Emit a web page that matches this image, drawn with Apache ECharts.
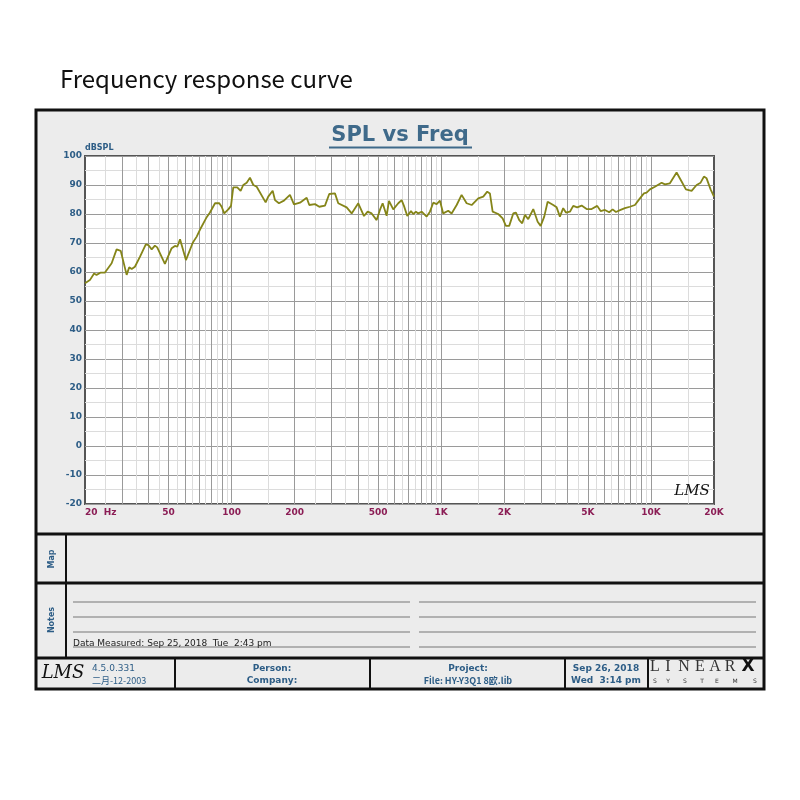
<!DOCTYPE html>
<html>
<head>
<meta charset="utf-8">
<script src="https://cdn.jsdelivr.net/npm/echarts@6/dist/echarts.min.js"></script>
<style>html,body{margin:0;padding:0;background:#fff;}#c{width:800px;height:800px;}</style>
</head>
<body>
<div id="c"></div>
<script>
// ---- data ----
const freqs = [20.0,21.1,22.1,22.7,23.8,24.9,26.8,28.3,29.6,31.6,32.5,33.4,34.6,36.6,39.0,40.1,41.6,43.1,44.2,48.1,
  51.8,53.7,55.1,56.8,60.6,65.3,68.2,71.3,76.1,78.9,83.4,87.4,89.7,92.3,96.5,99.4,101.9,106.5,110.5,113.7,
  118.1,122.4,127.0,131.8,145.4,149.6,157.1,161.1,168.3,177.8,189.9,198.5,212.0,228.2,234.8,250.0,262.1,279.0,292.4,311.3,
  322.8,354.0,374.0,402.2,428.2,445.8,465.8,492.0,510.2,525.6,549.2,563.4,590.6,624.0,647.6,664.2,688.8,717.4,735.8,757.6,
  777.0,806.6,852.2,883.6,916.2,951.0,986.2,1022,1080,1121,1185,1251,1322,1397,1502,1587,1658,1707,1759,1870,
  1963,2035,2110,2206,2272,2356,2434,2508,2600,2748,2800,2884,2980,3100,3218,3422,3552,3682,3818,3934,
  4110,4262,4452,4674,4938,5216,5546,5758,6036,6328,6570,6812,7172,7518,7944,8392,8866,9264,9542,9894,
  10452,11250,11666,12324,13262,14012,14690,15640,16522,17264,17900,18438,19266,20000];
const spl = [56.1,57.2,59.5,59.0,59.8,59.8,63.0,67.8,67.3,59.0,61.6,61.0,61.8,65.3,69.5,69.3,67.8,69.1,68.5,62.8,
  68.2,69.0,68.7,71.3,64.1,70.1,72.2,75.1,78.9,80.5,83.7,83.7,82.5,80.2,81.6,82.8,89.2,89.2,88.0,90.0,
  90.8,92.5,90.0,89.4,84.0,86.0,88.0,84.8,83.7,84.6,86.6,83.3,83.9,85.6,83.1,83.4,82.5,82.9,86.9,87.1,
  83.7,82.3,80.2,83.7,79.3,80.8,80.2,77.9,81.4,83.7,79.4,84.5,81.6,83.7,84.8,82.8,79.3,81.0,80.0,80.8,
  80.2,80.8,79.1,80.8,83.9,83.4,84.6,80.2,81.1,80.2,83.1,86.6,83.7,83.1,85.4,86.0,87.7,87.1,80.8,80.0,
  78.5,75.9,75.9,80.2,80.5,77.9,76.8,79.7,78.2,81.7,81.6,77.3,75.9,79.1,84.2,83.1,82.3,79.1,82.0,80.5,
  80.8,82.8,82.3,82.9,81.7,81.7,82.8,81.0,81.4,80.6,81.6,80.7,81.4,82.0,82.5,83.1,85.4,87.1,87.4,88.5,
  89.4,90.8,90.2,90.6,94.3,91.2,88.5,88.0,90.0,90.8,92.9,92.3,88.5,86.0];
const xTickValues = [20,50,100,200,500,1000,2000,5000,10000,20000];
const xTickLabels = ['20  Hz','50','100','200','500','1K','2K','5K','10K','20K'];
const xMajorGrid = [30,40,50,60,70,80,90,100,200,300,400,500,600,700,800,900,1000,2000,3000,4000,5000,6000,7000,8000,9000,10000];
const xMinorGrid = [25,35,45,55,65,75,85,95,150,250,350,450,550,650,750,850,950,1500,2500,3500,4500,5500,6500,7500,8500,9500,15000];

const blue = '#2d5d86';
const font = '"DejaVu Sans", Verdana, sans-serif';

const chart = echarts.init(document.getElementById('c'), null, {renderer: 'canvas'});

function gridLines(vals, color) {
  return {
    type: 'line', data: [], silent: true,
    markLine: {
      silent: true, z: 1, animation: false, symbol: ['none', 'none'],
      label: {show: false},
      lineStyle: {color: color, width: 1, type: 'solid'},
      data: vals.map(v => ({xAxis: v}))
    }
  };
}

const frameEls = [];
frameEls.push({type: 'rect', z: -10, shape: {x: 36, y: 110, width: 728, height: 579}, style: {fill: '#ececec', stroke: null}});
frameEls.push({type: 'rect', z: 20, shape: {x: 36, y: 110, width: 728, height: 579}, style: {fill: null, stroke: '#111', lineWidth: 3}});
[534, 583, 658].forEach(y => frameEls.push({type: 'line', z: 20, shape: {x1: 36, y1: y, x2: 764, y2: y}, style: {stroke: '#111', lineWidth: 3}}));
frameEls.push({type: 'line', z: 20, shape: {x1: 66, y1: 534, x2: 66, y2: 658}, style: {stroke: '#111', lineWidth: 2}});
[175, 370, 565, 648].forEach(x => frameEls.push({type: 'line', z: 20, shape: {x1: x, y1: 658, x2: x, y2: 689}, style: {stroke: '#111', lineWidth: 2}}));
[602, 617, 632, 647].forEach(y => {
  frameEls.push({type: 'line', z: 20, shape: {x1: 73, y1: y, x2: 410, y2: y}, style: {stroke: '#777', lineWidth: 1}});
  frameEls.push({type: 'line', z: 20, shape: {x1: 419, y1: y, x2: 756, y2: y}, style: {stroke: '#777', lineWidth: 1}});
});
function txt(x, y, text, opts) {
  return Object.assign({type: 'text', z: 25, x: x, y: y, style: Object.assign({text: text, fill: blue, font: '9px ' + font, align: 'left', verticalAlign: 'middle'}, opts || {})});
}
frameEls.push(txt(60, 79, 'Frequency response curve', {fill: '#111', font: '24px "Noto Sans CJK SC", "Noto Sans", sans-serif'}));
frameEls.push(txt(400, 136, 'SPL vs Freq', {fill: '#3f6a8a', font: 'bold 21px ' + font, align: 'center'}));
frameEls.push({type: 'line', z: 25, shape: {x1: 329, y1: 147.5, x2: 472, y2: 147.5}, style: {stroke: '#3f6a8a', lineWidth: 2}});
frameEls.push(Object.assign(txt(52, 559, 'Map', {align: 'center', font: 'bold 8px ' + font}), {rotation: Math.PI / 2}));
frameEls.push(Object.assign(txt(52, 620, 'Notes', {align: 'center', font: 'bold 8px ' + font}), {rotation: Math.PI / 2}));
frameEls.push(txt(73, 644, 'Data Measured: Sep 25, 2018  Tue  2:43 pm', {fill: '#222', font: '9px ' + font}));
frameEls.push(txt(63, 673, 'LMS', {fill: '#111', font: 'italic 18px "DejaVu Serif", serif', align: 'center'}));
frameEls.push(txt(92, 669, '4.5.0.331', {font: '9px ' + font}));
frameEls.push(txt(92, 681, '二月-12-2003', {font: '9px "Noto Sans CJK SC", ' + font}));
frameEls.push(txt(272, 669, 'Person:', {align: 'center', font: 'bold 9px ' + font}));
frameEls.push(txt(272, 681, 'Company:', {align: 'center', font: 'bold 9px ' + font}));
frameEls.push(txt(468, 669, 'Project:', {align: 'center', font: 'bold 9px ' + font}));
frameEls.push(txt(468, 681, 'File: HY-Y3Q1 8欧.lib', {align: 'center', font: 'bold 9px "Noto Sans CJK SC", ' + font}));
frameEls.push(txt(606, 669, 'Sep 26, 2018', {align: 'center', font: 'bold 9px ' + font}));
frameEls.push(txt(606, 681, 'Wed  3:14 pm', {align: 'center', font: 'bold 9px ' + font}));
const linearX = [655, 668, 684, 700, 715, 730];
'LINEAR'.split('').forEach((ch, i) => frameEls.push(txt(linearX[i], 667, ch, {fill: '#333', font: '16px "Liberation Serif", serif', align: 'center'})));
frameEls.push(txt(748, 667, 'X', {fill: '#111', font: 'bold 17px ' + font, align: 'center'}));
const sysX = [655, 668, 685, 702, 717, 735, 755];
'SYSTEMS'.split('').forEach((ch, i) => frameEls.push(txt(sysX[i], 681, ch, {fill: '#333', font: '6px ' + font, align: 'center'})));
frameEls.push(txt(692, 491, 'LMS', {fill: '#111', font: 'italic 15px "DejaVu Serif", serif', align: 'center'}));

chart.setOption({
  animation: false,
  backgroundColor: '#ffffff',
  graphic: {elements: frameEls},
  grid: {left: 85, top: 156, right: 86, bottom: 296, show: true, backgroundColor: '#ffffff', borderColor: '#555', borderWidth: 2},
  xAxis: {
    type: 'log', logBase: 10, min: 20, max: 20000,
    axisLine: {show: false}, axisTick: {show: false}, axisLabel: {show: false}, splitLine: {show: false}
  },
  yAxis: {
    type: 'value', min: -20, max: 100, interval: 10,
    name: 'dBSPL', nameLocation: 'end', nameGap: 3,
    nameTextStyle: {color: blue, fontSize: 8, fontWeight: 'bold', fontFamily: font, align: 'left', padding: [0, 0, 0, 0]},
    axisLine: {show: false}, axisTick: {show: false},
    axisLabel: {color: blue, fontSize: 9, fontWeight: 'bold', fontFamily: font, margin: 3},
    splitLine: {show: true, lineStyle: {color: '#9a9a9a', width: 1}},
    minorTick: {show: false, splitNumber: 2},
    minorSplitLine: {show: true, lineStyle: {color: '#dcdcdc', width: 1}}
  },
  series: [
    gridLines(xMinorGrid, '#dcdcdc'),
    gridLines(xMajorGrid, '#9a9a9a'),
    {
      type: 'line', data: [], silent: true, clip: false,
      markLine: {
        silent: true, z: 1, animation: false, symbol: ['none', 'none'],
        lineStyle: {color: 'rgba(0,0,0,0)', width: 0},
        label: {show: true, position: 'start', distance: 4, formatter: '{b}', color: '#8b1d55', fontSize: 9, fontWeight: 'bold', fontFamily: font},
        data: xTickValues.map((v, i) => i === 0 ? {name: xTickLabels[i], xAxis: v, label: {align: 'left'}} : {name: xTickLabels[i], xAxis: v})
      }
    },
    {
      type: 'line', z: 10, showSymbol: false, symbol: 'none', smooth: false,
      data: freqs.map((f, i) => [f, spl[i]]),
      lineStyle: {color: '#858519', width: 1.8}
    }
  ]
});
</script>
</body>
</html>
